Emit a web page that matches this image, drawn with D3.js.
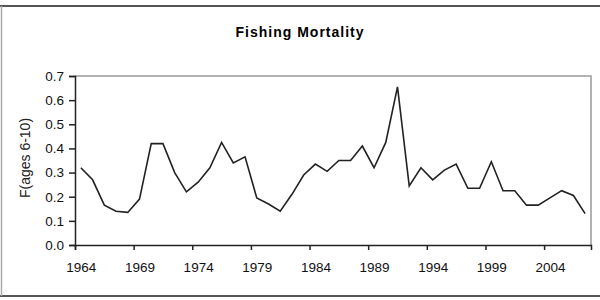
<!DOCTYPE html>
<html>
<head>
<meta charset="utf-8">
<script src="https://cdn.jsdelivr.net/npm/d3@7"></script>
<style>
  body { margin: 0; background: #fff; }
  svg { display: block; font-family: 'Liberation Sans', Arial, sans-serif; }
</style>
</head>
<body>
<svg id="canvas"></svg>
<script>
let years = [
    1964, 1965, 1966, 1967, 1968, 1969, 1970, 1971, 1972, 1973,
    1974, 1975, 1976, 1977, 1978, 1979, 1980, 1981, 1982, 1983,
    1984, 1985, 1986, 1987, 1988, 1989, 1990, 1991, 1992, 1993,
    1994, 1995, 1996, 1997, 1998, 1999, 2000, 2001, 2002, 2003,
    2004, 2005, 2006, 2007
];
let mortality = [
    0.32, 0.27, 0.165, 0.14, 0.135, 0.19, 0.42, 0.42, 0.30, 0.22,
    0.26, 0.32, 0.425, 0.34, 0.365, 0.195, 0.17, 0.14, 0.21, 0.29,
    0.335, 0.305, 0.35, 0.35, 0.41, 0.32, 0.425, 0.655, 0.245, 0.32,
    0.27, 0.31, 0.335, 0.235, 0.235, 0.345, 0.225, 0.225, 0.165, 0.165,
    0.195, 0.225, 0.205, 0.13
];
let yearLabels = [1964, 1969, 1974, 1979, 1984, 1989, 1994, 1999, 2004];
let yTicks = [0, 0.1, 0.2, 0.3, 0.4, 0.5, 0.6, 0.7];

let width = 600;
let height = 300;
let plot = { left: 75, right: 591, top: 76, bottom: 245 };

let canvas = d3.select('#canvas')
    .attr('width', width)
    .attr('height', height);

let values = years.map((year, i) => ({ year: year, value: mortality[i] }));

// categories sit between tick marks, like the Excel original
let xScale = d3.scaleLinear()
    .domain([years[0] - 0.5, years[years.length - 1] + 0.5])
    .range([plot.left, plot.right]);

let yScale = d3.scaleLinear()
    .domain([0, 0.7])
    .range([plot.bottom, plot.top]);

// outer frame
canvas.append('line')
    .attr('x1', 0).attr('x2', width).attr('y1', 6).attr('y2', 6)
    .attr('stroke', '#555').attr('stroke-width', 2);
canvas.append('line')
    .attr('x1', 0).attr('x2', width).attr('y1', 296).attr('y2', 296)
    .attr('stroke', '#555').attr('stroke-width', 2);
canvas.append('line')
    .attr('x1', 1.5).attr('x2', 1.5).attr('y1', 6).attr('y2', 296)
    .attr('stroke', '#aaa').attr('stroke-width', 1.5);

canvas.append('text')
    .attr('x', 300)
    .attr('y', 37)
    .attr('text-anchor', 'middle')
    .style('font-size', '14px')
    .style('font-weight', 'bold')
    .style('letter-spacing', '1px')
    .text('Fishing Mortality');

// plot area border (top and right are light grey)
canvas.append('path')
    .attr('d', `M${plot.left},${plot.top}H${plot.right}V${plot.bottom}`)
    .attr('fill', 'none')
    .attr('stroke', '#999')
    .attr('stroke-width', 1.5);

let tickAxis = d3.axisBottom(xScale)
    .tickValues(yearLabels.map(y => y - 0.5))
    .tickFormat('')
    .tickSizeOuter(0)
    .tickSize(5);

canvas.append('g')
    .attr('transform', `translate(0, ${plot.bottom})`)
    .call(tickAxis)
    .call(g => g.select('.domain').attr('stroke', '#222').attr('stroke-width', 1.5))
    .call(g => g.selectAll('.tick line').attr('stroke', '#222').attr('stroke-width', 1.5));

let labelAxis = d3.axisBottom(xScale)
    .tickValues(yearLabels)
    .tickFormat(d3.format('d'))
    .tickSize(0)
    .tickPadding(17);

canvas.append('g')
    .attr('transform', `translate(0, ${plot.bottom})`)
    .call(labelAxis)
    .call(g => g.select('.domain').remove())
    .call(g => g.selectAll('text')
        .style('font-size', '13.5px')
        .style('font-family', "'Liberation Sans', Arial, sans-serif")
        .attr('fill', '#111'));

let yAxis = d3.axisLeft(yScale)
    .tickValues(yTicks)
    .tickFormat(d3.format('.1f'))
    .tickSizeOuter(0)
    .tickSize(6)
    .tickPadding(5);

canvas.append('g')
    .attr('transform', `translate(${plot.left}, 0)`)
    .call(yAxis)
    .call(g => g.select('.domain').attr('stroke', '#222').attr('stroke-width', 1.5))
    .call(g => g.selectAll('.tick line').attr('stroke', '#222').attr('stroke-width', 1.5))
    .call(g => g.selectAll('text')
        .style('font-size', '13.5px')
        .style('font-family', "'Liberation Sans', Arial, sans-serif")
        .attr('fill', '#111'));

canvas.append('text')
    .attr('transform', 'translate(30, 158) rotate(-90)')
    .attr('text-anchor', 'middle')
    .style('font-size', '14px')
    .attr('fill', '#222')
    .text('F(ages 6-10)');

let line = d3.line()
    .x(d => xScale(d.year))
    .y(d => yScale(d.value));

canvas.append('path')
    .datum(values)
    .attr('d', line)
    .attr('fill', 'none')
    .attr('stroke', '#222')
    .attr('stroke-width', 1.6)
    .attr('stroke-linejoin', 'miter');
</script>
</body>
</html>
